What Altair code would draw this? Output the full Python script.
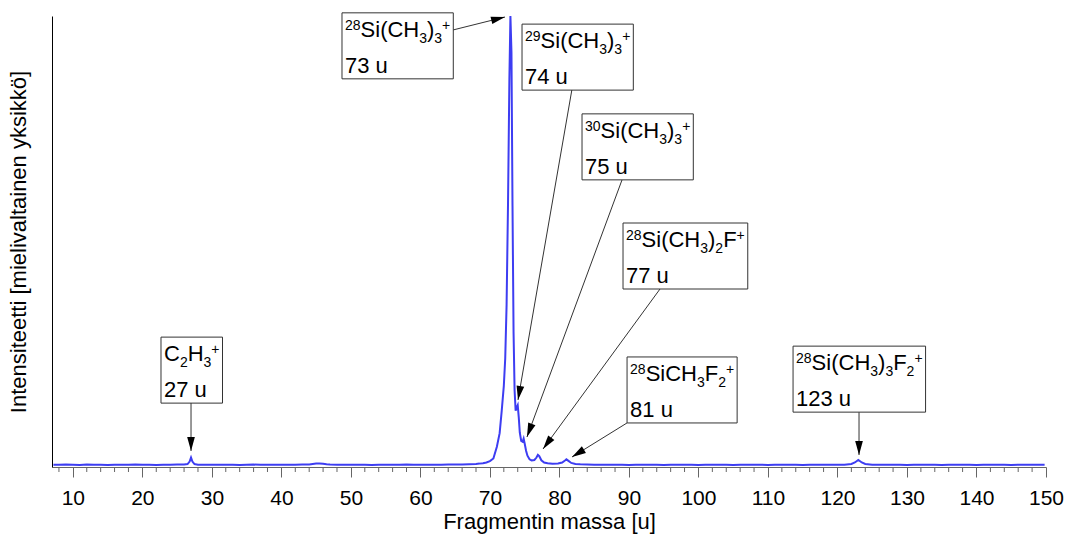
import math
import altair as alt
import pandas as pd

# ---------------- spectrum data ----------------
mass = [
    7.2, 8, 9, 10, 11, 12, 13, 14, 15, 16, 17, 18, 19, 20, 21, 22, 23, 24, 25,
    26, 26.5, 26.8, 27, 27.2, 27.5, 28,
    29, 30, 31, 32, 33, 34, 35, 36, 37, 38, 39, 40, 41, 42, 43,
    44, 44.5, 45, 45.5, 46, 46.5, 47,
    48, 49, 50, 51, 52, 53, 54, 55, 56, 57, 58, 59, 60, 61, 62, 63, 64, 65, 66, 67,
    68, 68.5, 69, 69.5, 70, 70.5, 71, 71.4, 71.7, 72.0, 72.2, 72.4, 72.6, 72.8, 72.95,
    73.1, 73.25, 73.4, 73.55, 73.7, 73.85, 74.0, 74.15, 74.3, 74.5, 74.7, 74.85, 75.0,
    75.2, 75.4, 75.7, 76.0, 76.4, 76.7, 76.9, 77.1, 77.4, 77.8, 78.3, 79, 79.8, 80.4,
    80.8, 81.0, 81.3, 81.7, 82.3, 83, 84,
    85, 86, 87, 88, 89, 90, 91, 92, 93, 94, 95, 96, 97, 98, 99, 100, 101, 102,
    103, 104, 105, 106, 107, 108, 109, 110, 111, 112, 113, 114, 115, 116, 117, 118, 119, 120,
    121, 122, 122.5, 123, 123.5, 124, 125,
    126, 127, 128, 129, 130, 131, 132, 133, 134, 135, 136, 137, 138, 139, 140,
    141, 142, 143, 144, 145, 146, 147, 148, 149, 149.8,
]
intensity = [
    0.0052, 0.0048, 0.0055, 0.0050, 0.0047, 0.0053, 0.0049, 0.0051, 0.0046, 0.0052,
    0.0050, 0.0048, 0.0053, 0.0049, 0.0051, 0.0047, 0.0052, 0.0050, 0.0053,
    0.0055, 0.0065, 0.0120, 0.0210, 0.0120, 0.0065, 0.0052,
    0.0050, 0.0048, 0.0052, 0.0049, 0.0051, 0.0047, 0.0050, 0.0053, 0.0048, 0.0050,
    0.0052, 0.0049, 0.0051, 0.0050, 0.0053,
    0.0058, 0.0066, 0.0075, 0.0078, 0.0070, 0.0060, 0.0054,
    0.0050, 0.0048, 0.0052, 0.0049, 0.0051, 0.0047, 0.0050, 0.0052, 0.0048, 0.0050,
    0.0053, 0.0049, 0.0051, 0.0050, 0.0052, 0.0051, 0.0054, 0.0056, 0.0058, 0.0062,
    0.0068, 0.0075, 0.0085, 0.0100, 0.0130, 0.0190, 0.0450, 0.0750, 0.1250, 0.1800,
    0.2400, 0.3600, 0.5800, 0.8600, 1.0000,
    0.9200, 0.5800, 0.3000, 0.1700, 0.1250, 0.1320, 0.1370, 0.1100, 0.0760, 0.0580,
    0.0560, 0.0630, 0.0520,
    0.0360, 0.0250, 0.0170, 0.0145, 0.0155, 0.0210, 0.0270, 0.0240, 0.0150, 0.0100,
    0.0082, 0.0072, 0.0078, 0.0100,
    0.0145, 0.0170, 0.0135, 0.0090, 0.0068, 0.0060, 0.0056,
    0.0052, 0.0049, 0.0051, 0.0048, 0.0050, 0.0047, 0.0049, 0.0051, 0.0048, 0.0050,
    0.0046, 0.0049, 0.0051, 0.0048, 0.0050, 0.0047, 0.0049, 0.0051,
    0.0048, 0.0050, 0.0047, 0.0049, 0.0051, 0.0048, 0.0050, 0.0046, 0.0049, 0.0051,
    0.0048, 0.0050, 0.0047, 0.0049, 0.0051, 0.0048, 0.0050, 0.0049,
    0.0052, 0.0068, 0.0100, 0.0155, 0.0100, 0.0068, 0.0052,
    0.0049, 0.0051, 0.0048, 0.0050, 0.0047, 0.0049, 0.0051, 0.0048, 0.0050, 0.0046,
    0.0049, 0.0051, 0.0048, 0.0050, 0.0047, 0.0049, 0.0051, 0.0048, 0.0050, 0.0047,
    0.0049, 0.0051, 0.0048, 0.0050, 0.0049,
]
assert len(mass) == len(intensity)

major_ticks = [10, 20, 30, 40, 50, 60, 70, 80, 90, 100, 110, 120, 130, 140, 150]
minor_ticks = [8, 12, 14, 16, 18, 22, 24, 26, 28, 32, 34, 36, 38, 42, 44, 46, 48,
               52, 54, 56, 58, 62, 64, 66, 68, 72, 74, 76, 78, 82, 84, 86, 88,
               92, 94, 96, 98, 102, 104, 106, 108, 112, 114, 116, 118, 122, 124,
               126, 128, 132, 134, 136, 138, 142, 144, 146, 148]

# ---------------- annotations ----------------
# segment kinds: n = normal, b = subscript, p = superscript
ann_segments = [
    [("C", "n"), ("2", "b"), ("H", "n"), ("3", "b"), ("+", "p")],
    [("28", "p"), ("Si(CH", "n"), ("3", "b"), (")", "n"), ("3", "b"), ("+", "p")],
    [("29", "p"), ("Si(CH", "n"), ("3", "b"), (")", "n"), ("3", "b"), ("+", "p")],
    [("30", "p"), ("Si(CH", "n"), ("3", "b"), (")", "n"), ("3", "b"), ("+", "p")],
    [("28", "p"), ("Si(CH", "n"), ("3", "b"), (")", "n"), ("2", "b"), ("F", "n"), ("+", "p")],
    [("28", "p"), ("SiCH", "n"), ("3", "b"), ("F", "n"), ("2", "b"), ("+", "p")],
    [("28", "p"), ("Si(CH", "n"), ("3", "b"), (")", "n"), ("3", "b"), ("F", "n"), ("2", "b"), ("+", "p")],
]
ann_second = ["27 u", "73 u", "74 u", "75 u", "77 u", "81 u", "123 u"]
box_x = [22.68, 48.72, 74.62, 83.25, 89.15, 89.73, 113.61]     # left edge (mass units)
box_y = [0.288, 1.007, 0.982, 0.783, 0.541, 0.244, 0.268]      # top edge (intensity)
tail_x = [27.0, 64.69, 81.81, 89.0, 94.47, 89.72, 123.1]
tail_y = [0.1419, 0.969, 0.8381, 0.6364, 0.3947, 0.0976, 0.122]
tip_x = [27.0, 72.17, 74.04, 75.33, 77.64, 81.81, 123.1]
tip_y = [0.0355, 0.9978, 0.1486, 0.0665, 0.0399, 0.0222, 0.0266]

# ---------------- layout ----------------
W, H = 994, 451
XMIN, XMAX, YMIN, YMAX = 7, 150, 0, 1
kx = W / (XMAX - XMIN)
ky = H / (YMAX - YMIN)
FONT = "Liberation Sans"
NORMAL, SMALL = 22, 14
BOX_H = 66

CW = {"S": 667, "i": 222, "(": 333, ")": 333, "C": 722, "H": 722, "F": 611,
      "+": 584, " ": 278, "u": 556}


def text_w(s, size):
    return sum(CW.get(c, 556) for c in s) * size / 1000.0


def to_px(x, y):
    return (x - XMIN) * kx, (YMAX - y) * ky


def to_data(px, py):
    return XMIN + px / kx, YMAX - py / ky


text_rows, box_rows = [], []
for i, segs in enumerate(ann_segments):
    bx, by = to_px(box_x[i], box_y[i])
    cur = bx + 3
    for txt, kind in segs:
        size = NORMAL if kind == "n" else SMALL
        off = {"n": 24, "b": 30, "p": 17}[kind]
        dx, dy = to_data(cur, by + off)
        text_rows.append({"x": dx, "y": dy, "t": txt, "s": size})
        cur += text_w(txt, size)
    dx, dy = to_data(bx + 3, by + 60)
    text_rows.append({"x": dx, "y": dy, "t": ann_second[i], "s": NORMAL})
    x1, y1 = to_data(bx, by)
    x2, y2 = to_data(cur + 3, by + BOX_H)
    box_rows.append({"x": x1, "x2": x2, "y": y1, "y2": y2})

arrow_rows = []
for i in range(len(tip_x)):
    tx, ty = to_px(tail_x[i], tail_y[i])
    px, py = to_px(tip_x[i], tip_y[i])
    ang = math.degrees(math.atan2(px - tx, -(py - ty))) % 360
    arrow_rows.append({"x": tail_x[i], "y": tail_y[i], "x2": tip_x[i], "y2": tip_y[i],
                       "angle": ang})

spec_df = pd.DataFrame({"mass": mass, "intensity": intensity})
text_df = pd.DataFrame(text_rows)
box_df = pd.DataFrame(box_rows)
arrow_df = pd.DataFrame(arrow_rows)
minor_df = pd.DataFrame({"v": minor_ticks})

xscale = alt.Scale(domain=[XMIN, XMAX], nice=False, zero=False)
yscale = alt.Scale(domain=[YMIN, YMAX], nice=False, zero=False)

x_axis = alt.Axis(
    values=major_ticks, format="d", tickSize=10, tickColor="#666", tickWidth=1,
    domainColor="#666", domainWidth=1, grid=False,
    labelFont=FONT, labelFontSize=21, labelColor="black", labelPadding=10,
    labelFlush=False, labelOverlap=False,
    title="Fragmentin massa [u]", titleFont=FONT, titleFontSize=22,
    titleFontWeight="normal", titleColor="black", titlePadding=3)
y_axis = alt.Axis(
    labels=False, ticks=False, grid=False, domainColor="black", domainWidth=1,
    title="Intensiteetti [mielivaltainen yksikkö]", titleFont=FONT,
    titleFontSize=22, titleFontWeight="normal", titleColor="black",
    titlePadding=22)


def X(field):
    return alt.X(field, scale=xscale, axis=x_axis, title="Fragmentin massa [u]")


def Y(field):
    return alt.Y(field, scale=yscale, axis=y_axis,
                 title="Intensiteetti [mielivaltainen yksikkö]")


spectrum = alt.Chart(spec_df).mark_line(color="#3d3df2", strokeWidth=2).encode(
    x=X("mass:Q"), y=Y("intensity:Q"),
)

minor = alt.Chart(minor_df).mark_rule(color="#666", strokeWidth=1).encode(
    x=X("v:Q"), y=alt.value(H), y2=alt.value(H + 5),
)

rules = alt.Chart(arrow_df).mark_rule(color="#333", strokeWidth=1).encode(
    x=X("x:Q"), y=Y("y:Q"), x2="x2:Q", y2="y2:Q",
)

heads = alt.Chart(arrow_df).mark_point(
    shape="M0,0 L0.55,2 L-0.55,2 Z", filled=True, color="black", opacity=1,
    size=196, strokeWidth=0,
).encode(
    x=X("x2:Q"), y=Y("y2:Q"),
    angle=alt.Angle("angle:Q", scale=None),
)

boxes = alt.Chart(box_df).mark_rect(fill="white", stroke="#333", strokeWidth=1).encode(
    x=X("x:Q"), x2="x2:Q", y=Y("y:Q"), y2="y2:Q",
)

texts = alt.Chart(text_df).mark_text(
    align="left", baseline="alphabetic", font=FONT, color="black",
).encode(
    x=X("x:Q"), y=Y("y:Q"),
    text="t:N", size=alt.Size("s:Q", scale=None),
)

chart = alt.layer(spectrum, minor, rules, boxes, texts, heads).properties(
    width=W, height=H,
    padding={"left": 52, "top": 16, "right": 20, "bottom": 69},
    autosize=alt.AutoSizeParams(type="none"),
    background="white",
).configure_view(stroke=None)

chart.save("out.html", embed_options={"renderer": "svg", "actions": False})
